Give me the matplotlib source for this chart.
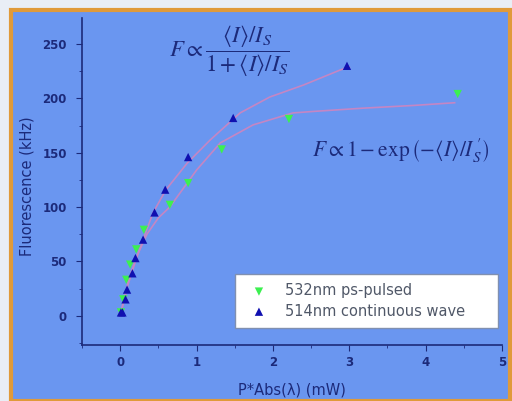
import matplotlib
matplotlib.use("Agg")
import matplotlib.pyplot as plt
from matplotlib.patches import Rectangle
from matplotlib.ticker import MultipleLocator

# 532nm ps-pulsed (green, down triangles)
x_green = [0.01, 0.04, 0.08, 0.13, 0.21, 0.31, 0.65, 0.89, 1.33, 2.21, 4.42]
y_green = [3, 15, 33, 47, 61, 79, 102, 122, 153, 181, 204]
# 514nm continuous wave (blue, up triangles)
x_blue = [0.01, 0.03, 0.07, 0.09, 0.16, 0.20, 0.30, 0.45, 0.59, 0.89, 1.48, 2.97]
y_blue = [3, 3, 15, 24, 39, 53, 70, 95, 116, 146, 182, 230]

# fit curves
fit_blue_x = [0.0, 0.1, 0.2, 0.3, 0.43, 0.6, 0.88, 1.18, 1.57, 1.96, 2.40, 2.88, 3.0]
fit_blue_y = [0, 28, 50, 70, 94.7, 116, 140.6, 161.8, 186.6, 201.3, 212.3, 226.1, 229]
fit_green_x = [0.0, 0.1, 0.2, 0.35, 0.5, 0.65, 1.0, 1.31, 1.74, 2.26, 2.53, 3.18, 3.84, 4.38]
fit_green_y = [0, 30, 52, 75, 90, 100, 134, 159, 175.6, 186.6, 188, 191, 193.5, 196]

navy = "#1c2a7a"
blue_bg = "#6a96f0"

plt.rcParams["mathtext.fontset"] = "stix"

fig = plt.figure(figsize=(5.12, 4.01), dpi=100, facecolor="#e9eef6")
frame = Rectangle((10.5 / 512, 0), 499 / 512, 391 / 401, transform=fig.transFigure,
                  facecolor=blue_bg, edgecolor="#e09a3a", linewidth=3, zorder=-10)
fig.add_artist(frame)

ax = fig.add_axes([82 / 512, 56 / 401, 420 / 512, 327 / 401])
ax.set_zorder(5)
ax.set_facecolor(blue_bg)
for s in ["top", "right"]:
    ax.spines[s].set_visible(False)
for s in ["left", "bottom"]:
    ax.spines[s].set_color(navy)
    ax.spines[s].set_linewidth(1.2)

ax.plot(fit_blue_x, fit_blue_y, color="#c486c4", lw=1.2, zorder=2)
ax.plot(fit_green_x, fit_green_y, color="#c486c4", lw=1.2, zorder=2)
ax.scatter(x_green, y_green, marker="v", s=36, color="#3cf050", edgecolors="none",
           label="532nm ps-pulsed", zorder=3)
ax.scatter(x_blue, y_blue, marker="^", s=36, color="#1010b0", edgecolors="none",
           label="514nm continuous wave", zorder=4)

ax.set_xlim(-0.5, 5)
ax.set_ylim(-27, 274)
ax.xaxis.set_major_locator(MultipleLocator(1))
ax.xaxis.set_minor_locator(MultipleLocator(0.5))
ax.yaxis.set_major_locator(MultipleLocator(50))
ax.yaxis.set_minor_locator(MultipleLocator(25))
ax.tick_params(which="major", length=4, color=navy, labelcolor=navy, labelsize=8.5, pad=4)
ax.tick_params(axis="y", which="major", pad=7)
ax.tick_params(which="minor", length=2.5, color=navy)
for lab in ax.get_xticklabels() + ax.get_yticklabels():
    lab.set_fontweight("bold")

ax.set_xlabel("P*Abs(λ) (mW)", color=navy, fontsize=10.5)
ax.set_ylabel("Fluorescence (kHz)", color=navy, fontsize=10.5)
ax.xaxis.set_label_coords(0.5, -0.116)
ax.yaxis.set_label_coords(-0.114, 0.486)

ax.text(1.43, 243, r"$F\propto\dfrac{\langle I\rangle/I_S}{1+\langle I\rangle/I_S}$",
        color=navy, fontsize=16.5, ha="center", va="center")
ax.text(3.68, 152, r"$F\propto 1-\exp\left(-\langle I\rangle/I_S^{\,\prime}\right)$",
        color=navy, fontsize=15.5, ha="center", va="center")

leg = ax.legend(loc="lower left", bbox_to_anchor=(0.364, 0.052, 0.626, 0.16), mode="expand",
                fontsize=10.5, frameon=True, fancybox=False, framealpha=1, borderpad=0.65,
                handletextpad=0.8, labelspacing=0.35, borderaxespad=0)
leg.get_frame().set_facecolor("white")
leg.get_frame().set_edgecolor("#8090b0")
for t in leg.get_texts():
    t.set_color("#505868")

fig.savefig("out.png", dpi=100, facecolor=fig.get_facecolor())
